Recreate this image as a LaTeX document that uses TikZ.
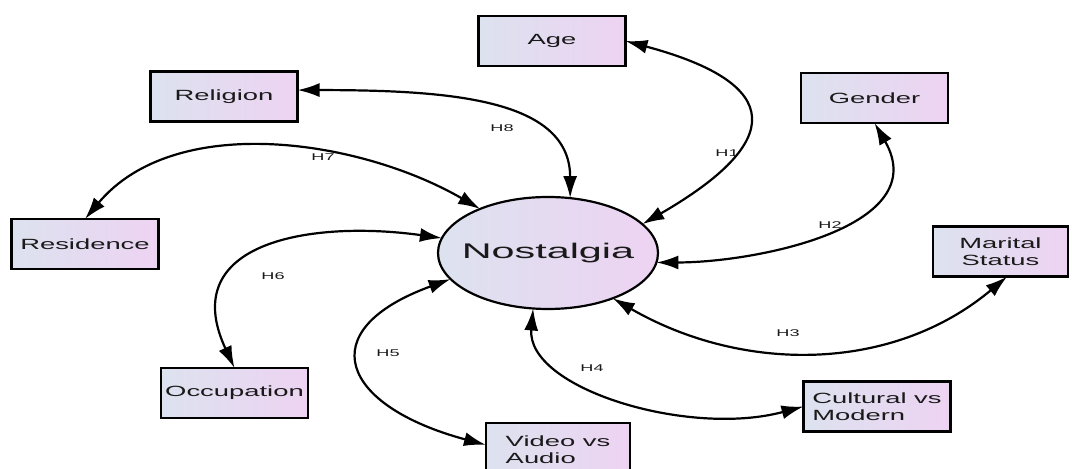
\documentclass[tikz,border=0pt]{standalone}
\usepackage{fontspec}
\setmainfont{Liberation Sans}
\newfontfamily\boxfont[FakeStretch=1.85]{Liberation Sans}
\newfontfamily\bigfont[FakeStretch=1.95]{Liberation Sans}
\newfontfamily\hypfont[FakeStretch=1.85]{Liberation Sans}
\usetikzlibrary{arrows.meta,shapes.geometric}
\definecolor{fillL}{HTML}{DDE2EF}
\definecolor{fillR}{HTML}{EDD3F2}
\definecolor{txt}{HTML}{1A1A1A}

\begin{document}
\begin{tikzpicture}[x=0.5pt,y=0.5pt,inner sep=0pt,outer sep=0pt,
varblock/.style={draw,rectangle,line width=1.3pt,left color=fillL,right color=fillR,minimum width=73.5pt,minimum height=25pt,font=\boxfont\fontsize{7.4}{8.6}\selectfont,text=txt},
latent/.style={draw,ellipse,line width=1.1pt,left color=fillL,right color=fillR,inner xsep=-6pt,minimum width=110pt,minimum height=56pt,font=\bigfont\fontsize{10.6}{12}\selectfont,text=txt},
hyp/.style={<->,>={Latex[length=11pt,width=7pt]},line width=1.1pt},
hlabel/.style={font=\hypfont\fontsize{4.9}{5}\selectfont,text=txt}]
\useasboundingbox (0,0) rectangle (1072,-469);
% construct and its predictors
\node[latent] (N) at (548,-253) {Nostalgia};
\node[varblock] (Age) at (552,-41) {Age};
\node[varblock] (Gen) at (874.5,-98) {Gender};
\node[varblock,minimum width=67.5pt,align=center] (Mar) at (1000.5,-251.5) {Marital\\Status};
\node[varblock,align=left] (Cul) at (877,-406.5) {Cultural vs\\Modern};
\node[varblock,minimum width=72pt,minimum height=27pt,align=left] (Vid) at (558,-450) {Video vs\\Audio};
\node[varblock] (Occ) at (234.5,-393) {Occupation};
\node[varblock] (Res) at (85,-244) {Residence};
\node[varblock] (Rel) at (224,-96.5) {Religion};
% hypotheses
\draw[hyp] (Age.east) .. controls +(-15:165) and +(30:165) .. (N.17);
\draw[hyp] (Gen.south) .. controls +(-60:120) and +(0:100) .. (N.-5);
\draw[hyp] (Mar.-75) .. controls +(220:150) and +(-30:150) .. (N.-35);
\draw[hyp] (N.-105) .. controls +(-95:80) and +(195:120) .. (Cul.west);
\draw[hyp] (N.195) .. controls +(200:150) and +(165:150) .. (Vid.176);
\draw[hyp] (N.172) .. controls +(172:130) and +(115:140) .. (Occ.north);
\draw[hyp] (Res.north) .. controls +(50:140) and +(150:140) .. (N.147);
\draw[hyp] (Rel.5) .. controls +(0:150) and +(90:100) .. (N.68);
\node[hlabel] (h1) at (727,-153) {H1};
\node[hlabel] (h2) at (830,-225) {H2};
\node[hlabel] (h3) at (788,-333) {H3};
\node[hlabel] (h4) at (592,-368) {H4};
\node[hlabel] (h5) at (388,-353) {H5};
\node[hlabel] (h6) at (273,-276) {H6};
\node[hlabel] (h7) at (323,-157) {H7};
\node[hlabel] (h8) at (502,-128) {H8};
\end{tikzpicture}
\end{document}
